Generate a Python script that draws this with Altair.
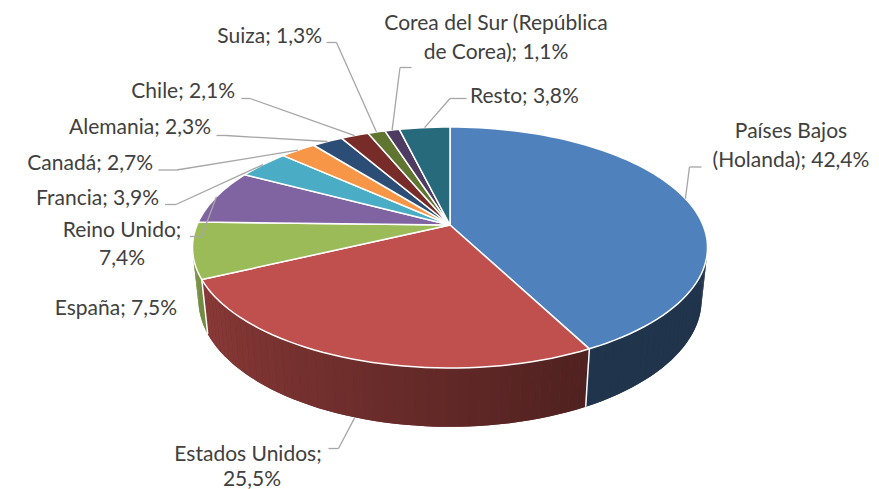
import altair as alt
import pandas as pd

# ---------------- data ----------------
countries = ["Países Bajos (Holanda)", "Estados Unidos", "España", "Reino Unido", "Francia",
             "Canadá", "Alemania", "Chile", "Suiza", "Corea del Sur (República de Corea)", "Resto"]
shares = [42.4, 25.5, 7.5, 7.4, 3.9, 2.7, 2.3, 2.1, 1.3, 1.1, 3.8]

label_lines = ["Países Bajos", "(Holanda); 42,4%", "Estados Unidos;", "25,5%", "España; 7,5%",
               "Reino Unido;", "7,4%", "Francia; 3,9%", "Canadá; 2,7%", "Alemania; 2,3%",
               "Chile; 2,1%", "Suiza; 1,3%", "Corea del Sur (República", "de Corea); 1,1%",
               "Resto; 3,8%"]

# ---------------- style ----------------
colors = ["#4F81BD", "#C0504D", "#9BBB59", "#8064A2", "#4BACC6", "#F79646",
          "#2C4D75", "#772C2A", "#5F7530", "#4D3B62", "#276A7C"]
TEXT_COLOR = "#404040"
LEADER_COLOR = "#A6A6A6"
FONT = "Lato"
FONT_SIZE = 21

# ---------------- layout (page pixels) ----------------
W, H = 863, 481
CX, CY = 450, 225          # projected pie centre
R = 253                    # pie radius
TILT = 27.37               # view elevation (deg)
DIST = 1204                # perspective distance
DEPTH = 59                 # pie thickness

line_x = [791, 791, 248, 252, 177, 122, 122, 159, 153, 211, 235, 322, 496, 496, 470]
line_y = [138, 167, 461, 486, 315, 237, 265, 205, 170, 134, 98, 43, 30, 59, 103]
line_align = ["center", "center", "center", "center", "right", "center", "center", "right",
              "right", "right", "right", "right", "center", "center", "left"]

elbow_x = [689.5, 338.5, None, 201.5, 176, 176.5, 226, 250, 336.5, 400, 450]
elbow_y = [167, 448.5, None, 236.5, 204.5, 170, 135.5, 98.5, 42.5, 67.5, 98.5]
end_x = [701.5, 328.5, None, 190, 165, 158.5, 216.5, 241.5, 326.5, 411.5, 466.5]
end_y = [167, 448.5, None, 236.5, 204.5, 170, 135.5, 98.5, 42.5, 67.5, 98.5]

SA = f"sin({TILT}*PI/180)"
CA = f"cos({TILT}*PI/180)"


def proj(t, h):
    """perspective projection of a rim point at angle t (clockwise from back) and height h"""
    w = f"(({h})*{SA} - {R}*cos({t})*{CA})"
    s = f"({DIST}/({DIST}-{w}))"
    sx = f"({CX} + {R}*sin({t})*{s})"
    v = f"(({h})*{CA} + {R}*cos({t})*{SA})"
    sy = f"({CY} - {v}*{s})"
    return sx, sy


SX = alt.Scale(domain=[8, 8 + W], nice=False, zero=False)
SY = alt.Scale(domain=[8, 8 + H], nice=False, zero=False, reverse=True)

df = pd.DataFrame({
    "idx": list(range(len(countries))),
    "country": countries,
    "share": shares,
    "color": colors,
    "ex": elbow_x, "ey": elbow_y, "lx": end_x, "ly": end_y,
})

base = (
    alt.Chart(df)
    .transform_joinaggregate(total="sum(share)")
    .transform_window(cum="sum(share)", sort=[alt.SortField("idx")], frame=[None, 0])
    .transform_calculate(a0="(datum.cum - datum.share)/datum.total*2*PI")
    .transform_calculate(a1="datum.cum/datum.total*2*PI")
)

FACTOR = "clamp(0.40 + 0.38*(datum.tm*180/PI - 150)/110, 0.40, 0.78)"
WCOLOR = ("'rgb(' + round(rgb(datum.color).r*datum.f) + ',' + round(rgb(datum.color).g*datum.f)"
          " + ',' + round(rgb(datum.color).b*datum.f) + ')'")

front = (
    base
    .transform_calculate(w0="max(datum.a0, PI/2)")
    .transform_calculate(w1="min(datum.a1, 3*PI/2)")
    .transform_filter("datum.w0 < datum.w1")
)

wx, wy = proj("datum.t", "datum.h")

# ---- side wall underlay (one polygon per slice, no seams) ----
wall_under = (
    front
    .transform_calculate(m="max(1, ceil((datum.w1-datum.w0)*90/PI))")
    .transform_calculate(steps="sequence(0, 2*datum.m+2)")
    .transform_flatten(["steps"], as_=["i"])
    .transform_calculate(t="datum.i <= datum.m ? datum.w0 + (datum.w1-datum.w0)*datum.i/datum.m"
                           " : datum.w1 - (datum.w1-datum.w0)*(datum.i-datum.m-1)/datum.m")
    .transform_calculate(h=f"datum.i <= datum.m ? 0 : {-DEPTH}")
    .transform_calculate(tm="(datum.w0 + datum.w1)/2")
    .transform_calculate(f=FACTOR)
    .transform_calculate(wc=WCOLOR)
    .transform_calculate(px=wx)
    .transform_calculate(py=wy)
    .mark_line(interpolate="linear-closed", filled=True, strokeWidth=0)
    .encode(
        x=alt.X("px:Q", scale=SX, axis=None),
        y=alt.Y("py:Q", scale=SY, axis=None),
        order=alt.Order("i:Q"),
        detail="country:N",
        color=alt.Color("wc:N", scale=None),
    )
)

# ---- shaded strips on the side wall ----
wall = (
    front
    .transform_calculate(m="max(1, ceil((datum.w1-datum.w0)*90/PI))")
    .transform_calculate(segs="sequence(0, datum.m)")
    .transform_flatten(["segs"], as_=["j"])
    .transform_calculate(corners="[0,1,2,3]")
    .transform_flatten(["corners"], as_=["k"])
    .transform_calculate(t="datum.w0 + (datum.w1-datum.w0)*(datum.j + ((datum.k==1 || datum.k==2) ? 1 : 0))/datum.m")
    .transform_calculate(h=f"datum.k >= 2 ? {-DEPTH} : 0")
    .transform_calculate(tm="datum.w0 + (datum.w1-datum.w0)*(datum.j+0.5)/datum.m")
    .transform_calculate(f=FACTOR)
    .transform_calculate(wc=WCOLOR)
    .transform_calculate(seg="datum.country + '-' + datum.j")
    .transform_calculate(px=wx)
    .transform_calculate(py=wy)
    .mark_line(interpolate="linear-closed", filled=True, strokeWidth=0)
    .encode(
        x=alt.X("px:Q", scale=SX, axis=None),
        y=alt.Y("py:Q", scale=SY, axis=None),
        order=alt.Order("k:Q"),
        detail="seg:N",
        color=alt.Color("wc:N", scale=None),
    )
)

# ---- white slice boundaries on the wall ----
bx1, by1 = proj("datum.a0", "0")
bx2, by2 = proj("datum.a0", str(-DEPTH))
bnd = (
    base
    .transform_filter("datum.a0 > PI/2 && datum.a0 < 3*PI/2")
    .transform_calculate(x1=bx1)
    .transform_calculate(y1=by1)
    .transform_calculate(x2=bx2)
    .transform_calculate(y2=by2)
    .mark_rule(color="white", strokeWidth=1.5)
    .encode(
        x=alt.X("x1:Q", scale=SX, axis=None),
        y=alt.Y("y1:Q", scale=SY, axis=None),
        x2="x2:Q", y2="y2:Q",
    )
)

# ---- top faces ----
tx, ty = proj("datum.t", "0")
top = (
    base
    .transform_calculate(n="max(2, ceil((datum.a1-datum.a0)*90/PI))")
    .transform_calculate(steps="sequence(0, datum.n+2)")
    .transform_flatten(["steps"], as_=["i"])
    .transform_calculate(t="datum.a0 + (datum.a1-datum.a0)*(datum.i-1)/datum.n")
    .transform_calculate(px=f"datum.i == 0 ? {CX} : {tx}")
    .transform_calculate(py=f"datum.i == 0 ? {CY} : {ty}")
    .mark_line(interpolate="linear-closed", filled=True, stroke="white",
               strokeWidth=1.5, strokeJoin="round")
    .encode(
        x=alt.X("px:Q", scale=SX, axis=None),
        y=alt.Y("py:Q", scale=SY, axis=None),
        order=alt.Order("i:Q"),
        detail="country:N",
        color=alt.Color("color:N", scale=None),
    )
)

# ---- leader lines ----
mx, my = proj("datum.tm", "datum.hh")
lead = (
    base
    .transform_filter("isValid(datum.ex)")
    .transform_calculate(tm="(datum.a0 + datum.a1)/2")
    .transform_calculate(hh=f"cos(datum.tm) < 0 ? {-DEPTH} : 0")
    .transform_calculate(mx=mx)
    .transform_calculate(my=my)
)
lead1 = lead.mark_rule(color=LEADER_COLOR, strokeWidth=1.3).encode(
    x=alt.X("mx:Q", scale=SX, axis=None), y=alt.Y("my:Q", scale=SY, axis=None),
    x2="ex:Q", y2="ey:Q")
lead2 = lead.mark_rule(color=LEADER_COLOR, strokeWidth=1.3).encode(
    x=alt.X("ex:Q", scale=SX, axis=None), y=alt.Y("ey:Q", scale=SY, axis=None),
    x2="lx:Q", y2="ly:Q")

# ---- labels ----
ldf = pd.DataFrame({"text": label_lines, "x": line_x, "y": line_y, "align": line_align})
txt_layers = []
for al in ["left", "center", "right"]:
    txt_layers.append(
        alt.Chart(ldf)
        .transform_filter(f"datum.align == '{al}'")
        .mark_text(align=al, baseline="alphabetic", font=FONT, fontSize=FONT_SIZE, color=TEXT_COLOR)
        .encode(
            x=alt.X("x:Q", scale=SX, axis=None),
            y=alt.Y("y:Q", scale=SY, axis=None),
            text="text:N",
        )
    )

chart = (
    alt.layer(wall_under, wall, bnd, top, lead1, lead2, *txt_layers)
    .properties(width=W, height=H, padding=0, autosize=alt.AutoSizeParams(type="none"))
    .configure_view(stroke=None)
)

chart.save("out.html", embed_options={"renderer": "svg", "actions": False})
